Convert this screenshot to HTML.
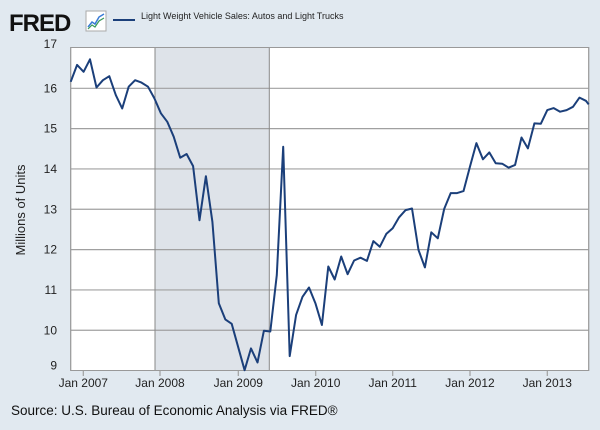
<!DOCTYPE html>
<html><head><style>
body{margin:0;width:600px;height:425px;background:#e1e9f0;font-family:"Liberation Sans",sans-serif;overflow:hidden}
</style></head><body>
<svg width="600" height="425" xmlns="http://www.w3.org/2000/svg" id="s">
<rect x="0" y="0" width="600" height="425" fill="#e1e9f0"/>
<text x="9" y="31" font-size="24" font-weight="bold" fill="#111" letter-spacing="-1">FRED</text>
<rect x="86" y="11" width="20" height="20" fill="#fff" stroke="#aaa"/>
<polyline points="88,27 92,22 95,24 99,17 104,14" fill="none" stroke="#3a7bd5" stroke-width="1.5"/>
<polyline points="88,29 92,25 95,27 99,21 104,18" fill="none" stroke="#3a9a5a" stroke-width="1.2"/>
<line x1="113" y1="20" x2="135" y2="20" stroke="#1b3f7a" stroke-width="2"/>
<text x="141" y="19" font-size="9" fill="#222">Light Weight Vehicle Sales: Autos and Light Trucks</text>
<rect x="70.7" y="47.5" width="518" height="323" fill="#fff" stroke="#999"/>
<rect x="155" y="47.5" width="114.3" height="323" fill="#dee3e9"/>
<g id="grid" stroke="#a0a0a0" stroke-width="1.2"></g>
<line x1="155" y1="47.5" x2="155" y2="370.6" stroke="#888"/>
<line x1="269.3" y1="47.5" x2="269.3" y2="370.6" stroke="#888"/>
<rect x="70.7" y="47.5" width="518" height="323" fill="none" stroke="#999"/>
<g id="lab" font-size="12" fill="#222"></g>
<text transform="translate(25,210) rotate(-90)" text-anchor="middle" font-size="13" fill="#222">Millions of Units</text>
<polyline id="ln" fill="none" stroke="#1b3f7a" stroke-width="2" stroke-linejoin="round"/>
<text x="11" y="415" font-size="13.5" fill="#111">Source: U.S. Bureau of Economic Analysis via FRED®</text>
</svg>
<script>
var v=[16.16,16.58,16.41,16.72,16.02,16.2,16.3,15.83,15.5,16.04,16.2,16.14,16.04,15.75,15.38,15.17,14.8,14.28,14.37,14.07,12.73,13.82,12.69,10.67,10.27,10.16,9.59,9.01,9.55,9.2,9.99,9.97,11.37,14.55,9.36,10.38,10.83,11.06,10.67,10.13,11.58,11.26,11.83,11.39,11.73,11.8,11.72,12.21,12.07,12.39,12.53,12.8,12.98,13.02,11.99,11.56,12.43,12.28,13.01,13.4,13.4,13.45,14.06,14.64,14.24,14.41,14.14,14.13,14.03,14.1,14.78,14.51,15.13,15.12,15.46,15.51,15.42,15.46,15.54,15.77,15.69,15.6];
var Y=function(a){return 370.6-(a-9)*40.33};
var p=[];for(var i=0;i<v.length;i++){var x=70.7+i*6.44;if(x>588.7)x=588.7;p.push(x.toFixed(1)+","+Y(v[i]).toFixed(1));}
document.getElementById("ln").setAttribute("points",p.join(" "));
var g=document.getElementById("grid"),l=document.getElementById("lab"),ns="http://www.w3.org/2000/svg";
function el(t,a,par,tx){var e=document.createElementNS(ns,t);for(var k in a)e.setAttribute(k,a[k]);if(tx)e.textContent=tx;par.appendChild(e);}
for(var k=9;k<=17;k++){var y=Y(k);if(k>9&&k<17)el("line",{x1:70.7,x2:588.7,y1:y,y2:y},g);el("text",{x:57,y:y+4+(k==9?-5:0)+(k==17?-4:0),"text-anchor":"end"},l,""+k);}
var xs=[83.3,160,238.3,315.7,392.7,470,547.3];
for(var j=0;j<7;j++){el("line",{x1:xs[j],x2:xs[j],y1:370.6,y2:376},g);el("text",{x:xs[j],y:387,"text-anchor":"middle"},l,"Jan "+(2007+j));}
</script>
</body></html>
